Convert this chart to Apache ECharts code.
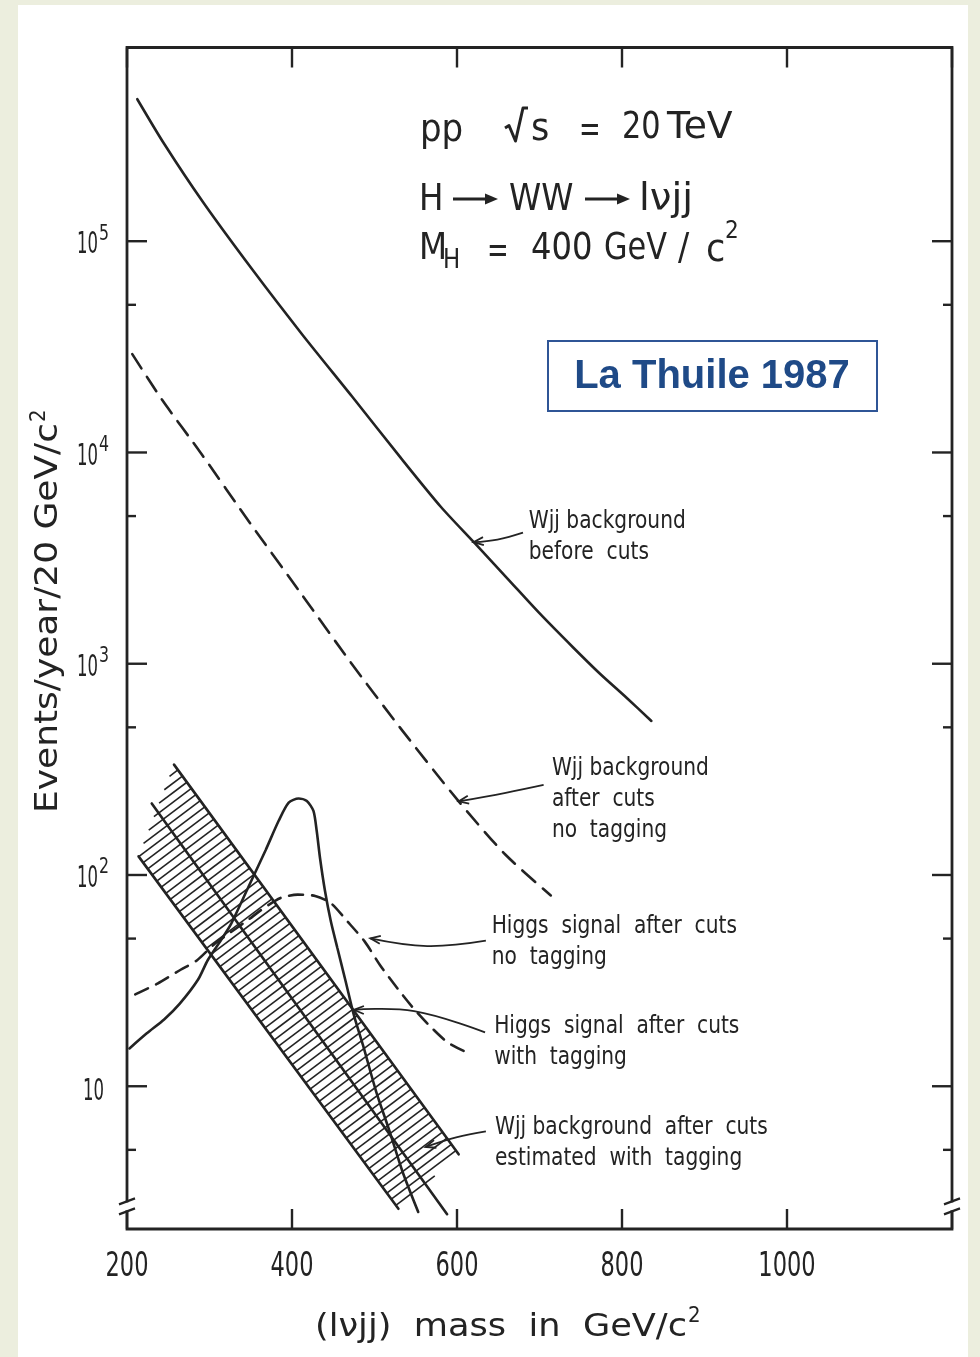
<!DOCTYPE html>
<html>
<head>
<meta charset="utf-8">
<title>H → WW → lνjj, pp at √s = 20 TeV</title>
<script src="https://cdn.jsdelivr.net/npm/echarts@6.0.0/dist/echarts.min.js"></script>
<style>
  html, body { margin: 0; padding: 0; background: #eceede; }
  #sheet { position: absolute; left: 18px; top: 5px; width: 950px; height: 1352px; background: #ffffff; }
  #chart { position: absolute; left: 0; top: 0; width: 980px; height: 1357px; }
</style>
</head>
<body>
<div id="sheet"></div>
<div id="chart"></div>
<script>
// ---------------- data ----------------
const massRange = [200, 1200];          // GeV/c^2
const eventsRange = [2.11, 826000];     // events / year / 20 GeV/c^2

const xTickValues = [200, 400, 600, 800, 1000];
const xTickLabels = ['200', '400', '600', '800', '1000'];
const yTickValues = [5, 10, 50, 100, 500, 1000, 5000, 10000, 50000, 100000];
const yLabelValues = [100000, 10000, 1000, 100, 10];
const yLabelExponents = ['5', '4', '3', '2', ''];
const axisBreakValue = 2.7;

// Wjj background before cuts
const bgBeforeMass   = [212.5, 244.8, 292.7, 352.6, 412.6, 472.6, 532.6, 580.6, 620.4, 661.2, 700.8, 740.5, 773, 805.5, 835.6];
const bgBeforeEvents = [470000, 290000, 152000, 72800, 36100, 18450, 9350, 5520, 3760, 2530, 1720, 1197, 899, 690, 536];

// Wjj background after cuts, no tagging
const bgAfterMass   = [206.4, 242.3, 290.3, 350.2, 410.2, 470.1, 530, 602.1, 658.5, 713.7];
const bgAfterEvents = [29200, 17800, 9840, 4570, 2170, 1028, 504, 223, 125, 80];

// Higgs signal after cuts, with tagging
const higgsTagMass   = [203, 224, 245, 264, 286, 298, 314, 326, 347, 368, 384, 396, 408, 418, 426, 430, 434, 440, 447, 455, 465, 475, 487, 502, 518, 534, 553];
const higgsTagEvents = [15.1, 17.8, 20.7, 24.6, 31.9, 39.6, 49.2, 58.5, 87.5, 131, 181, 220, 230, 224, 201, 161, 120, 84, 60.5, 45.1, 31.4, 21.7, 15.2, 9.44, 6.17, 3.94, 2.54];

// Higgs signal after cuts, no tagging
const higgsNoTagMass   = [210, 237, 265, 285, 306, 326, 346, 367, 387, 407, 428, 447, 467, 488, 507, 528, 548, 567, 588, 608];
const higgsNoTagEvents = [27.2, 30.6, 35.6, 39.5, 47.1, 53.7, 61.0, 70.2, 78.1, 80.7, 79.6, 73.6, 60.4, 48.5, 37.3, 29.0, 23.2, 19.3, 16.2, 14.7];

// Wjj background after cuts estimated with tagging: band edges and central line
const bandUpperMass   = [257, 602];
const bandUpperEvents = [333, 4.76];
const bandLowerMass   = [214, 529];
const bandLowerEvents = [122.5, 2.63];
const bandCentreMass   = [230, 588];
const bandCentreEvents = [218, 2.48];

// annotations: text lines, anchor (left edge, first line) and arrow path ending on the curve
const noteLines = [
  ['Wjj background', 'before  cuts'],
  ['Wjj background', 'after  cuts', 'no  tagging'],
  ['Higgs  signal  after  cuts', 'no  tagging'],
  ['Higgs  signal  after  cuts', 'with  tagging'],
  ['Wjj background  after  cuts', 'estimated  with  tagging']
];
const noteAnchors = [[687, 4700], [715, 320], [642, 57], [645, 19.2], [646, 6.37]];
const noteArrows = [
  [[680, 4170], [649, 3870], [620, 3760]],
  [[705, 267], [659, 245], [602, 223]],
  [[635, 48.9], [564, 46.1], [495, 50.1]],
  [[634, 18.0], [548, 22.7], [475, 23.0]],
  [[635, 6.11], [599, 5.73], [562, 5.16]]
];

// ---------------- style ----------------
const INK = '#232323';
const FONT = "'DejaVu Sans', 'Liberation Sans', sans-serif";
const HATCH_ANGLE = 37;   // degrees above horizontal
const HATCH_GAP = 7.6;    // px between hatch lines

const measureCtx = document.createElement('canvas').getContext('2d');
function textWidth(str, size, weight) {
  measureCtx.font = (weight || 'normal') + ' ' + size + 'px ' + FONT;
  return measureCtx.measureText(str).width;
}
function pairs(xs, ys) { return xs.map((x, i) => [x, ys[i]]); }

function txt(text, x, y, size, sx, align, extra) {
  return Object.assign({
    type: 'text', x: x, y: y, scaleX: sx, silent: true,
    style: {
      text: text, fontSize: size, fontFamily: FONT, fill: INK,
      align: align || 'left', textAlign: align || 'left',
      verticalAlign: 'middle', textVerticalAlign: 'middle'
    }
  }, extra || {});
}

// ---------------- header block ----------------
const HS = 37, HX = 0.88;
const header = [
  txt('pp', 420, 131, HS, 0.92),
  { type: 'polyline', silent: true, shape: { points: [[505, 128], [509, 125.5], [515.5, 141], [523, 108], [528, 108]] },
    style: { stroke: INK, lineWidth: 3, fill: null, lineJoin: 'round' } },
  txt('s', 531, 130, HS, 0.95),
  txt('=', 579, 131, HS, 0.7),
  txt('20', 622, 128, HS, 0.82),
  txt('TeV', 667, 128, HS, 1.02),
  txt('H', 419, 200, HS, HX),
  txt('WW', 509, 200, HS, 0.88),
  txt('lνjj', 639, 200, HS, 1.05),
  txt('M', 419, 249, HS, HX),
  txt('H', 443, 261, 26, HX),
  txt('=', 487, 252, HS, 0.7),
  txt('400', 531, 249, HS, 0.87),
  txt('GeV', 604, 249, HS, 0.82),
  txt('/', 678, 249, HS, 0.9),
  txt('c', 706, 251, HS, 0.95),
  txt('2', 725, 232, 24, 0.9),
  // long arrows of the decay chain
  { type: 'line', silent: true, shape: { x1: 453, y1: 199, x2: 488, y2: 199 }, style: { stroke: INK, lineWidth: 3 } },
  { type: 'polygon', silent: true, shape: { points: [[485, 193.5], [498, 199], [485, 204.5]] }, style: { fill: INK } },
  { type: 'line', silent: true, shape: { x1: 585, y1: 199, x2: 620, y2: 199 }, style: { stroke: INK, lineWidth: 3 } },
  { type: 'polygon', silent: true, shape: { points: [[617, 193.5], [630, 199], [617, 204.5]] }, style: { fill: INK } }
];

// conference tag
const tag = [
  { type: 'rect', silent: true, shape: { x: 548, y: 341, width: 329, height: 70 },
    style: { fill: '#ffffff', stroke: '#2f5596', lineWidth: 2 } },
  { type: 'text', silent: true, x: 712, y: 377,
    style: { text: 'La Thuile 1987', fontSize: 40, fontWeight: 'bold',
      fontFamily: "'Liberation Sans', Arial, sans-serif", fill: '#1f4a87',
      align: 'center', textAlign: 'center', verticalAlign: 'middle', textVerticalAlign: 'middle' } }
];

// axis titles
const yTitleBase = 'Events/year/20 GeV/c';
const yTitleSize = 32;
const yTitleW = 390, yTitleSupW = 14;
const yTitleSX = yTitleW / textWidth(yTitleBase, yTitleSize);
const yTitle = {
  type: 'group', x: 49, y: 611, rotation: Math.PI / 2, silent: true,
  children: [
    txt(yTitleBase, -(yTitleW + yTitleSupW) / 2, 0, yTitleSize, yTitleSX),
    txt('2', -(yTitleW + yTitleSupW) / 2 + yTitleW + 1, -10, 22, 0.9)
  ]
};
const xTitleBase = '(lνjj)  mass  in  GeV/c';
const xTitleSize = 32;
const xTitleW = 372;
const xTitleSX = xTitleW / textWidth(xTitleBase, xTitleSize);
const xTitle = {
  type: 'group', x: 315, y: 1328, silent: true,
  children: [
    txt(xTitleBase, 0, 0, xTitleSize, xTitleSX),
    txt('2', xTitleW + 1, -12, 22, 0.9)
  ]
};

// ---------------- chart ----------------
const chart = echarts.init(document.getElementById('chart'), null, { renderer: 'canvas' });

const plainAxis = {
  type: 'value', min: massRange[0], max: massRange[1], interval: 200,
  axisLine: { show: false },
  axisTick: { show: true, inside: true, length: 20, lineStyle: { color: INK, width: 2.4 } },
  axisLabel: { show: false }, splitLine: { show: false }
};

function curve(name, xs, ys, dashed) {
  return {
    type: 'line', name: name, data: pairs(xs, ys), symbol: 'none', smooth: 0.25,
    silent: true, z: 3,
    lineStyle: { color: INK, width: 2.6, type: dashed ? dashed : 'solid', cap: 'round' }
  };
}

const NOTE_SIZE = 25;
const NOTE_SX = 157 / textWidth('Wjj background', NOTE_SIZE);
const TICK_SIZE = 33;
const TICK_SX = 43 / textWidth('200', TICK_SIZE);
const YLAB_SIZE = 31;
const YLAB_SX = 21 / textWidth('10', YLAB_SIZE);

const option = {
  animation: false,
  grid: { left: 127, top: 47.5, width: 825, height: 1181.5, show: true,
    borderColor: INK, borderWidth: 2.8, backgroundColor: 'rgba(0,0,0,0)' },
  xAxis: [
    Object.assign({}, plainAxis, { position: 'bottom' }),
    Object.assign({}, plainAxis, { position: 'top' })
  ],
  yAxis: [{
    type: 'log', logBase: 10, min: eventsRange[0], max: eventsRange[1],
    axisLine: { show: false }, axisTick: { show: false }, axisLabel: { show: false }, splitLine: { show: false }
  }],
  graphic: { elements: header.concat(tag, [yTitle, xTitle]) },
  series: [
    {
      // hatched band, clipped to the quadrilateral between the two edges
      type: 'custom', name: 'Wjj background after cuts estimated with tagging',
      silent: true, clip: true, z: 1,
      data: [[bandUpperMass[0], bandUpperEvents[0]]],
      renderItem: function (params, api) {
        const poly = [
          api.coord([bandUpperMass[0], bandUpperEvents[0]]),
          api.coord([bandUpperMass[1], bandUpperEvents[1]]),
          api.coord([bandLowerMass[1], bandLowerEvents[1]]),
          api.coord([bandLowerMass[0], bandLowerEvents[0]])
        ];
        const a = HATCH_ANGLE * Math.PI / 180;
        const nx = Math.sin(a), ny = Math.cos(a);
        const s = poly.map(p => p[0] * nx + p[1] * ny);
        const sMin = Math.min.apply(null, s), sMax = Math.max.apply(null, s);
        const children = [];
        for (let t = Math.ceil(sMin / HATCH_GAP) * HATCH_GAP; t <= sMax; t += HATCH_GAP) {
          const pts = [];
          for (let k = 0; k < 4; k++) {
            const A = poly[k], B = poly[(k + 1) % 4];
            const sa = s[k], sb = s[(k + 1) % 4];
            if ((sa - t) * (sb - t) <= 0 && sa !== sb) {
              const u = (t - sa) / (sb - sa);
              pts.push([A[0] + u * (B[0] - A[0]), A[1] + u * (B[1] - A[1])]);
            }
          }
          if (pts.length >= 2) {
            children.push({ type: 'line', shape: { x1: pts[0][0], y1: pts[0][1], x2: pts[1][0], y2: pts[1][1] },
              style: { stroke: INK, lineWidth: 1.6 } });
          }
        }
        return { type: 'group', children: children };
      }
    },
    curve('band upper edge', bandUpperMass, bandUpperEvents),
    curve('band lower edge', bandLowerMass, bandLowerEvents),
    curve('band centre', bandCentreMass, bandCentreEvents),
    curve('Wjj background before cuts', bgBeforeMass, bgBeforeEvents),
    curve('Wjj background after cuts, no tagging', bgAfterMass, bgAfterEvents, [17, 10]),
    curve('Higgs signal after cuts, with tagging', higgsTagMass, higgsTagEvents),
    curve('Higgs signal after cuts, no tagging', higgsNoTagMass, higgsNoTagEvents, [14, 9]),
    {
      // tick marks on both vertical axes
      type: 'custom', name: 'y ticks', silent: true, clip: false, z: 4,
      data: yTickValues.map(v => [massRange[0], v]),
      renderItem: function (params, api) {
        const v = api.value(1);
        const lg = Math.log10(v);
        const major = Math.abs(lg - Math.round(lg)) < 1e-6;
        const len = major ? 20 : 9;
        const l = api.coord([massRange[0], v]);
        const r = api.coord([massRange[1], v]);
        return { type: 'group', children: [
          { type: 'line', shape: { x1: l[0], y1: l[1], x2: l[0] + len, y2: l[1] }, style: { stroke: INK, lineWidth: 2.4 } },
          { type: 'line', shape: { x1: r[0] - len, y1: r[1], x2: r[0], y2: r[1] }, style: { stroke: INK, lineWidth: 2.4 } }
        ] };
      }
    },
    {
      // broken-axis marks near the bottom of both vertical axes
      type: 'custom', name: 'axis breaks', silent: true, clip: false, z: 5,
      data: [[massRange[0], axisBreakValue], [massRange[1], axisBreakValue]],
      renderItem: function (params, api) {
        const p = api.coord([api.value(0), api.value(1)]);
        const mark = dy => ({ type: 'line', shape: { x1: p[0] - 8, y1: p[1] + dy + 3, x2: p[0] + 8, y2: p[1] + dy - 3 },
          style: { stroke: INK, lineWidth: 2.2 } });
        return { type: 'group', children: [
          { type: 'rect', shape: { x: p[0] - 4, y: p[1] - 4, width: 8, height: 8 }, style: { fill: '#ffffff' } },
          mark(-5), mark(5)
        ] };
      }
    },
    {
      type: 'custom', name: 'x labels', silent: true, clip: false, z: 5,
      data: xTickValues.map(v => [v, eventsRange[0]]),
      renderItem: function (params, api) {
        const p = api.coord([api.value(0), api.value(1)]);
        return txt(xTickLabels[params.dataIndex], p[0], p[1] + 38, TICK_SIZE, TICK_SX, 'center');
      }
    },
    {
      type: 'custom', name: 'y labels', silent: true, clip: false, z: 5,
      data: yLabelValues.map(v => [massRange[0], v]),
      renderItem: function (params, api) {
        const p = api.coord([api.value(0), api.value(1)]);
        const ex = yLabelExponents[params.dataIndex];
        if (!ex) return txt('10', p[0] - 23, p[1] + 6, YLAB_SIZE, YLAB_SX, 'right');
        return { type: 'group', children: [
          txt('10', p[0] - 29, p[1] + 4, YLAB_SIZE, YLAB_SX, 'right'),
          txt(ex, p[0] - 28, p[1] - 7, 21, 0.75, 'left')
        ] };
      }
    },
    {
      type: 'custom', name: 'annotations', silent: true, clip: false, z: 6,
      data: noteAnchors.map(a => [a[0], a[1]]),
      renderItem: function (params, api) {
        const i = params.dataIndex;
        const pts = noteArrows[i].map(q => api.coord(q));
        const tip = pts[pts.length - 1], prev = pts[pts.length - 2];
        let dx = tip[0] - prev[0], dy = tip[1] - prev[1];
        const d = Math.hypot(dx, dy) || 1; dx /= d; dy /= d;
        const children = [
          { type: 'polyline', shape: { points: pts, smooth: 0.4 }, style: { stroke: INK, lineWidth: 1.8, fill: null } },
          { type: 'polyline', shape: { points: [
              [tip[0] - dx * 10 - dy * 4, tip[1] - dy * 10 + dx * 4], tip,
              [tip[0] - dx * 10 + dy * 4, tip[1] - dy * 10 - dx * 4]] },
            style: { stroke: INK, lineWidth: 1.8, fill: null } }
        ];
        const a = api.coord([api.value(0), api.value(1)]);
        noteLines[i].forEach((line, k) => children.push(txt(line, a[0], a[1] + k * 31, NOTE_SIZE, NOTE_SX)));
        return { type: 'group', children: children };
      }
    }
  ]
};

chart.setOption(option);
</script>
</body>
</html>
